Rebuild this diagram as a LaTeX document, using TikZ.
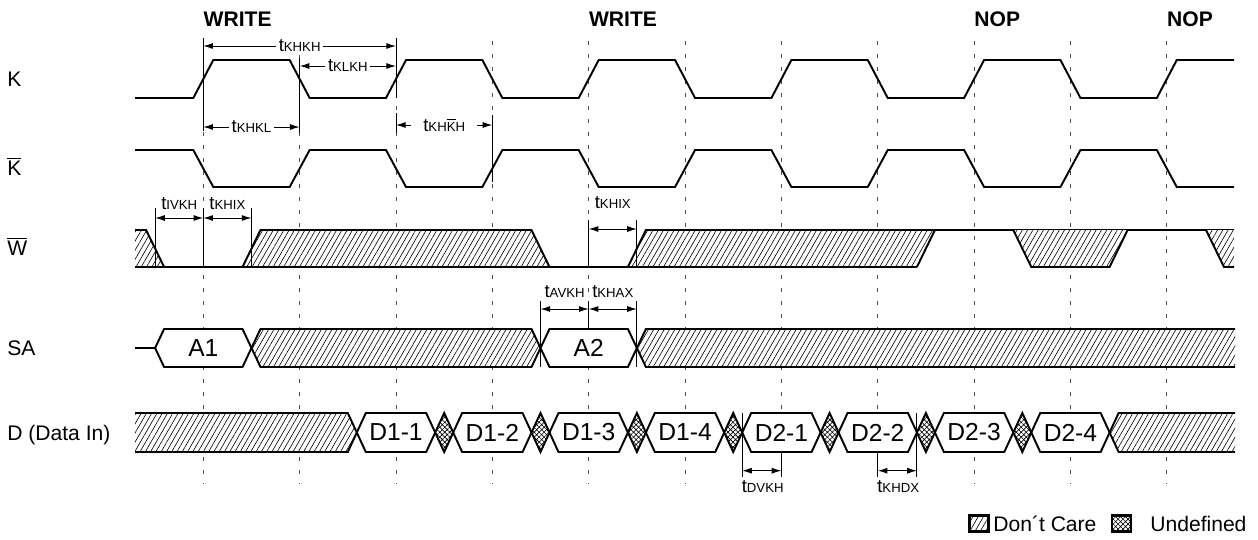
\documentclass[tikz,border=0pt]{standalone}
\usepackage{fontspec}
\setmainfont{Liberation Sans}
\usetikzlibrary{arrows.meta,patterns.meta}

\newcommand{\tpar}[1]{{\fontsize{10.5}{12}\selectfont t}{\fontsize{7.5}{9}\selectfont #1}}
\newcommand{\barsig}[1]{$\overline{\mbox{#1}}$}

\tikzset{
  wave/.style={line width=1.1pt},
  guide/.style={black!70, line width=0.55pt, dash pattern=on 2.3pt off 5.1pt},
  ext/.style={line width=0.55pt},
  tarr/.style={line width=0.55pt, {Latex[length=5.5pt,width=3.4pt]}-{Latex[length=5.5pt,width=3.4pt]}},
  tend/.style={line width=0.55pt, -{Latex[length=5.5pt,width=3.4pt]}},
  tlab/.style={fill=white, inner sep=1.5pt},
  dontcare/.style={preaction={fill=white}, pattern={Lines[angle=60,distance=2.6pt,line width=0.35pt]}},
  undef/.style={preaction={fill=white}, pattern={Hatch[angle=45,distance=2pt,line width=0.35pt]}},
  signame/.style={anchor=base west, inner sep=0pt, font=\fontsize{12}{14}\selectfont},
  cmd/.style={anchor=base west, inner sep=0pt, font=\bfseries\fontsize{12}{14}\selectfont},
  datalbl/.style={font=\fontsize{14}{16}\selectfont},
  legbox/.style={draw, line width=1.5pt, minimum width=11pt, minimum height=9pt, inner sep=0pt},
  legtxt/.style={anchor=west, inner sep=0pt, font=\fontsize{12}{14}\selectfont},
}

\begin{document}
\begin{tikzpicture}[x=0.02cm, y=-0.02cm]
\useasboundingbox (0,0) rectangle (1258,539);

% commands and signal names
\node[cmd] (wr1) at (203.3,26.5) {WRITE};
\node[cmd] (wr2) at (588.7,26.5) {WRITE};
\node[cmd] (nop1) at (974.1,26.5) {NOP};
\node[cmd] (nop2) at (1166.8,26.5) {NOP};
\node[signame] (sK) at (7,86.5) {K};
\node[signame] (sKb) at (7,175.5) {\barsig{K}};
\node[signame] (sW) at (7,255.5) {\barsig{W}};
\node[signame] (sSA) at (7,355.5) {SA};
\node[signame] (sD) at (7,440) {D (Data In)};

% clock edge guides
\foreach \i in {0,...,10}
  \draw[guide] ({203.3+96.35*\i},41) -- ({203.3+96.35*\i},484);

% K and K bar
\draw[wave] (135,98) \foreach \i in {0,2,...,8} {-- ({193.3+96.35*\i},98) -- ({213.3+96.35*\i},60) -- ({289.65+96.35*\i},60) -- ({309.65+96.35*\i},98)} -- (1156.8,98) -- (1176.8,60) -- (1234,60);
\draw[wave] (135,150) \foreach \i in {0,2,...,8} {-- ({193.3+96.35*\i},150) -- ({213.3+96.35*\i},187) -- ({289.65+96.35*\i},187) -- ({309.65+96.35*\i},150)} -- (1156.8,150) -- (1176.8,187) -- (1234,187);

% W bar
\path[dontcare] (135,230) -- (146.1,230) -- (164.1,267) -- (135,267) -- cycle;
\draw[wave] (135,230) -- (146.1,230) -- (164.1,267);
\path[dontcare] (242.5,267) -- (260.5,230) -- (531.5,230) -- (549.5,267) -- cycle;
\draw[wave] (242.5,267) -- (260.5,230) -- (531.5,230) -- (549.5,267);
\path[dontcare] (627.9,267) -- (645.9,230) -- (934.9,230) -- (916.9,267) -- cycle;
\draw[wave] (627.9,267) -- (645.9,230) -- (1234,230);
\draw[wave] (916.9,267) -- (934.9,230);
\path[dontcare] (1013.3,230) -- (1031.3,267) -- (1109.6,267) -- (1127.6,230) -- cycle;
\draw[wave] (1013.3,230) -- (1031.3,267) -- (1109.6,267) -- (1127.6,230);
\path[dontcare] (1206,230) -- (1224,267) -- (1234,267) -- (1234,230) -- cycle;
\draw[wave] (1206,230) -- (1224,267) -- (1234,267);
\draw[wave] (135,267) -- (916.9,267);

% SA
\draw[wave] (135,348) -- (155.1,348);
\draw[wave, fill=white] (155.1,348) -- (164.1,329) -- (242.5,329) -- (251.5,348) -- (242.5,367) -- (164.1,367) -- cycle;
\draw[wave, dontcare] (251.5,348) -- (260.5,329) -- (531.5,329) -- (540.5,348) -- (531.5,367) -- (260.5,367) -- cycle;
\draw[wave, fill=white] (540.5,348) -- (549.5,329) -- (627.9,329) -- (636.9,348) -- (627.9,367) -- (549.5,367) -- cycle;
\path[dontcare] (636.9,348) -- (645.9,329) -- (1235,329) -- (1235,367) -- (645.9,367) -- cycle;
\draw[wave] (1235,329) -- (645.9,329) -- (636.9,348) -- (645.9,367) -- (1235,367);
\node[datalbl] (a1) at (203.3,348) {A1};
\node[datalbl] (a2) at (588.7,348) {A2};

% D (Data In)
\path[dontcare] (135,413) -- (347.8,413) -- (356.8,432.5) -- (347.8,452) -- (135,452) -- cycle;
\draw[wave] (135,413) -- (347.8,413) -- (356.8,432.5) -- (347.8,452) -- (135,452);
\foreach \c/\txt [count=\k] in {396.0/D1-1, 492.35/D1-2, 588.7/D1-3, 685.05/D1-4, 781.4/D2-1, 877.75/D2-2, 974.1/D2-3, 1070.45/D2-4}
{
  \draw[wave, fill=white] ({\c-39.2},432.5) -- ({\c-30.2},413) -- ({\c+30.2},413) -- ({\c+39.2},432.5) -- ({\c+30.2},452) -- ({\c-30.2},452) -- cycle;
  \node[datalbl] (d\k) at (\c,432.5) {\txt};
}
\foreach \m in {444.2, 540.5, 636.9, 733.2, 829.6, 925.9, 1022.3}
  \draw[wave, undef] ({\m-9},432.5) -- (\m,413) -- ({\m+9},432.5) -- (\m,452) -- cycle;
\path[dontcare] (1109.6,432.5) -- (1118.6,413) -- (1235,413) -- (1235,452) -- (1118.6,452) -- cycle;
\draw[wave] (1235,413) -- (1118.6,413) -- (1109.6,432.5) -- (1118.6,452) -- (1235,452);

% clock timings
\draw[ext] (203.3,38) -- (203.3,131);
\draw[ext] (299.65,58) -- (299.65,133);
\draw[ext] (396.0,38) -- (396.0,98);
\draw[ext] (396.0,113) -- (396.0,133);
\draw[ext] (492.35,115) -- (492.35,182);
\coordinate (khkhL) at (203.3,46);
\coordinate (khkhR) at (396.0,46);
\draw[tarr] (khkhL) -- node[tlab] (lkhkh) {\tpar{KHKH}} (khkhR);
\coordinate (klkhL) at (299.65,66);
\coordinate (klkhR) at (396.0,66);
\draw[tarr] (klkhL) -- node[tlab] (lklkh) {\tpar{KLKH}} (klkhR);
\coordinate (khklL) at (203.3,127);
\coordinate (khklR) at (299.65,127);
\draw[tarr] (khklL) -- node[tlab] (lkhkl) {\tpar{KHKL}} (khklR);
\coordinate (khkbL) at (396.0,125);
\coordinate (khkbR) at (492.35,125);
\node[tlab, inner xsep=6.6pt] (lkhkb) at (444.2,125) {\tpar{KH\barsig{K}H}};
\draw[tend] (lkhkb.west) -- (khkbL);
\draw[tend] (lkhkb.east) -- (khkbR);

% W timings
\draw[ext] (155.1,208) -- (155.1,267);
\draw[ext] (203.3,208) -- (203.3,267);
\draw[ext] (251.5,208) -- (251.5,267);
\coordinate (ivkhL) at (155.1,218);
\coordinate (ivkhR) at (203.3,218);
\coordinate (khixR) at (251.5,218);
\draw[tarr] (ivkhL) -- (ivkhR);
\draw[tarr] (ivkhR) -- (khixR);
\node[tlab] (livkh) at (179.2,204) {\tpar{IVKH}};
\node[tlab] (lkhix) at (227.4,204) {\tpar{KHIX}};
\draw[ext] (588.7,220) -- (588.7,267);
\draw[ext] (636.9,220) -- (636.9,267);
\coordinate (khix2L) at (588.7,229);
\coordinate (khix2R) at (636.9,229);
\draw[tarr] (khix2L) -- (khix2R);
\node[tlab] (lkhix2) at (612.8,203) {\tpar{KHIX}};

% SA timings
\draw[ext] (540.5,301) -- (540.5,367);
\draw[ext] (588.7,301) -- (588.7,329);
\draw[ext] (636.9,301) -- (636.9,367);
\coordinate (avkhL) at (540.5,309);
\coordinate (avkhR) at (588.7,309);
\coordinate (khaxR) at (636.9,309);
\draw[tarr] (avkhL) -- (avkhR);
\draw[tarr] (avkhR) -- (khaxR);
\node[tlab] (lavkh) at (564.6,292) {\tpar{AVKH}};
\node[tlab] (lkhax) at (612.8,292) {\tpar{KHAX}};

% D timings
\draw[ext] (742.2,413) -- (742.2,477);
\draw[ext] (781.4,452) -- (781.4,477);
\draw[ext] (877.75,452) -- (877.75,477);
\draw[ext] (916.9,413) -- (916.9,477);
\coordinate (dvkhL) at (742.2,470.7);
\coordinate (dvkhR) at (781.4,470.7);
\coordinate (khdxL) at (877.75,470.7);
\coordinate (khdxR) at (916.9,470.7);
\draw[tarr] (dvkhL) -- (dvkhR);
\draw[tarr] (khdxL) -- (khdxR);
\node[anchor=west, inner sep=0pt] (ldvkh) at (741.5,487) {\tpar{DVKH}};
\node[anchor=west, inner sep=0pt] (lkhdx) at (877,487) {\tpar{KHDX}};

% legend
\node[legbox, dontcare] (dcbox) at (979,523.5) {};
\node[legtxt] (dctxt) at (993,523.5) {Don´t Care};
\node[legbox, undef] (udbox) at (1121.5,523.5) {};
\node[legtxt] (udtxt) at (1150,523.5) {Undefined};
\end{tikzpicture}
\end{document}
